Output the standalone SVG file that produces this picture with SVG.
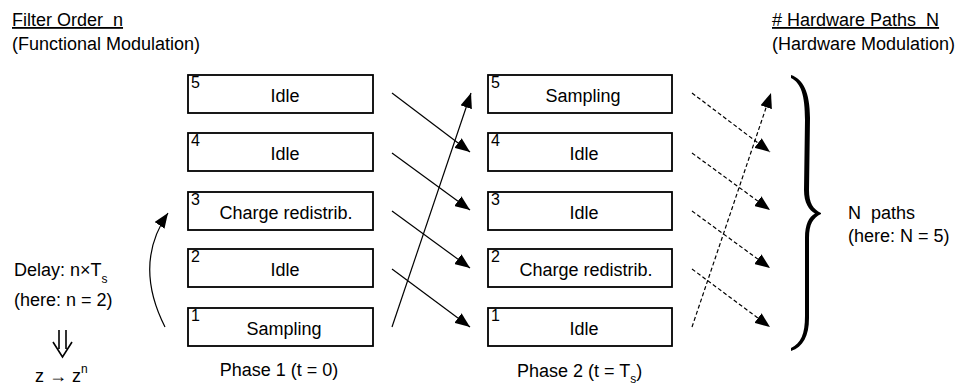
<svg xmlns="http://www.w3.org/2000/svg" width="961" height="389" viewBox="0 0 961 389">
<defs>
<style>
text{font-family:"Liberation Sans",Arial,Helvetica,sans-serif;font-size:18px;fill:#000}
.num{font-size:16px}
.lbl{text-anchor:middle}
.box{fill:#fff;stroke:#000;stroke-width:1.8}
.sol{stroke:#000;stroke-width:1.2;fill:none}
.dash{stroke:#000;stroke-width:1.2;fill:none;stroke-dasharray:4 2.5}
</style>
<marker id="ah" viewBox="0 0 15 12" refX="15" refY="6" markerWidth="15" markerHeight="12" markerUnits="userSpaceOnUse" orient="auto">
<path d="M0,0 L15,6 L0,12 z" fill="#000"/>
</marker>
</defs>
<rect width="961" height="389" fill="#fff"/>

<g id="titles">
<text x="12" y="26" text-decoration="underline" xml:space="preserve">Filter Order  n</text>
<text x="12" y="50">(Functional Modulation)</text>
<text x="772" y="26" text-decoration="underline" xml:space="preserve"># Hardware Paths  N</text>
<text x="772" y="50">(Hardware Modulation)</text>
</g>

<g id="phase1">
<g id="p1-5"><rect class="box" x="188" y="75" width="185" height="38"/><text class="num" x="191" y="88">5</text><text class="lbl" x="285" y="102">Idle</text></g>
<g id="p1-4"><rect class="box" x="188" y="133" width="185" height="38"/><text class="num" x="191" y="146">4</text><text class="lbl" x="285" y="160">Idle</text></g>
<g id="p1-3"><rect class="box" x="188" y="192" width="185" height="38"/><text class="num" x="191" y="205">3</text><text class="lbl" x="286" y="219">Charge redistrib.</text></g>
<g id="p1-2"><rect class="box" x="188" y="249" width="185" height="38"/><text class="num" x="191" y="262">2</text><text class="lbl" x="285" y="276">Idle</text></g>
<g id="p1-1"><rect class="box" x="188" y="308" width="185" height="38"/><text class="num" x="191" y="321">1</text><text class="lbl" x="284" y="335">Sampling</text></g>
<text class="lbl" x="279" y="376">Phase 1 (t = 0)</text>
</g>

<g id="phase2">
<g id="p2-5"><rect class="box" x="488" y="75" width="184" height="38"/><text class="num" x="491" y="88">5</text><text class="lbl" x="583" y="102">Sampling</text></g>
<g id="p2-4"><rect class="box" x="488" y="133" width="184" height="38"/><text class="num" x="491" y="146">4</text><text class="lbl" x="584" y="160">Idle</text></g>
<g id="p2-3"><rect class="box" x="488" y="192" width="184" height="38"/><text class="num" x="491" y="205">3</text><text class="lbl" x="584" y="219">Idle</text></g>
<g id="p2-2"><rect class="box" x="488" y="249" width="184" height="38"/><text class="num" x="491" y="262">2</text><text class="lbl" x="586" y="276">Charge redistrib.</text></g>
<g id="p2-1"><rect class="box" x="488" y="308" width="184" height="38"/><text class="num" x="491" y="321">1</text><text class="lbl" x="584" y="335">Idle</text></g>
<text x="517" y="377">Phase 2  (t = T<tspan font-size="12" dy="6">s</tspan><tspan dy="-6">)</tspan></text>
</g>

<g id="connectors">
<path class="sol" d="M392,93 L470,152" marker-end="url(#ah)"/>
<path class="sol" d="M392,153 L470,210" marker-end="url(#ah)"/>
<path class="sol" d="M392,211 L470,268" marker-end="url(#ah)"/>
<path class="sol" d="M392,269 L470,327" marker-end="url(#ah)"/>
<path class="sol" d="M392,327 L471,93" marker-end="url(#ah)"/>
<path class="dash" d="M692,93 L770,152" marker-end="url(#ah)"/>
<path class="dash" d="M692,153 L770,210" marker-end="url(#ah)"/>
<path class="dash" d="M692,211 L770,268" marker-end="url(#ah)"/>
<path class="dash" d="M692,269 L770,327" marker-end="url(#ah)"/>
<path class="dash" d="M692,327 L771,93" marker-end="url(#ah)"/>
<path class="sol" d="M165,327 Q133,264 168,213" marker-end="url(#ah)"/>
</g>

<g id="brace">
<path d="M791,75 C803,79 810,92 810,118 L809,190 C809,203 813,209 821,213 L821,214 C813,218 809,224 809,238 L809,318 C809,336 803,347 791,351 L791,348 C801,343 805,334 805,316 L805,238 C805,224 809,217 815,213.5 C809,210 804,203 804,190 L805,120 C805,95 801,83 791,78 Z" fill="#000"/>
<text x="848" y="219" xml:space="preserve">N  paths</text>
<text x="848" y="242">(here: N = 5)</text>
</g>

<g id="delay">
<text x="14" y="276">Delay: n×T<tspan font-size="12" dy="7">s</tspan></text>
<text x="14" y="306">(here: n = 2)</text>
<path d="M59,330 V349 M66,330 V349 M53,342 L62.5,357 L72,342" fill="none" stroke="#000" stroke-width="1.6"/>
<text x="35" y="382">z → z<tspan font-size="12" dy="-9">n</tspan></text>
</g>
</svg>
